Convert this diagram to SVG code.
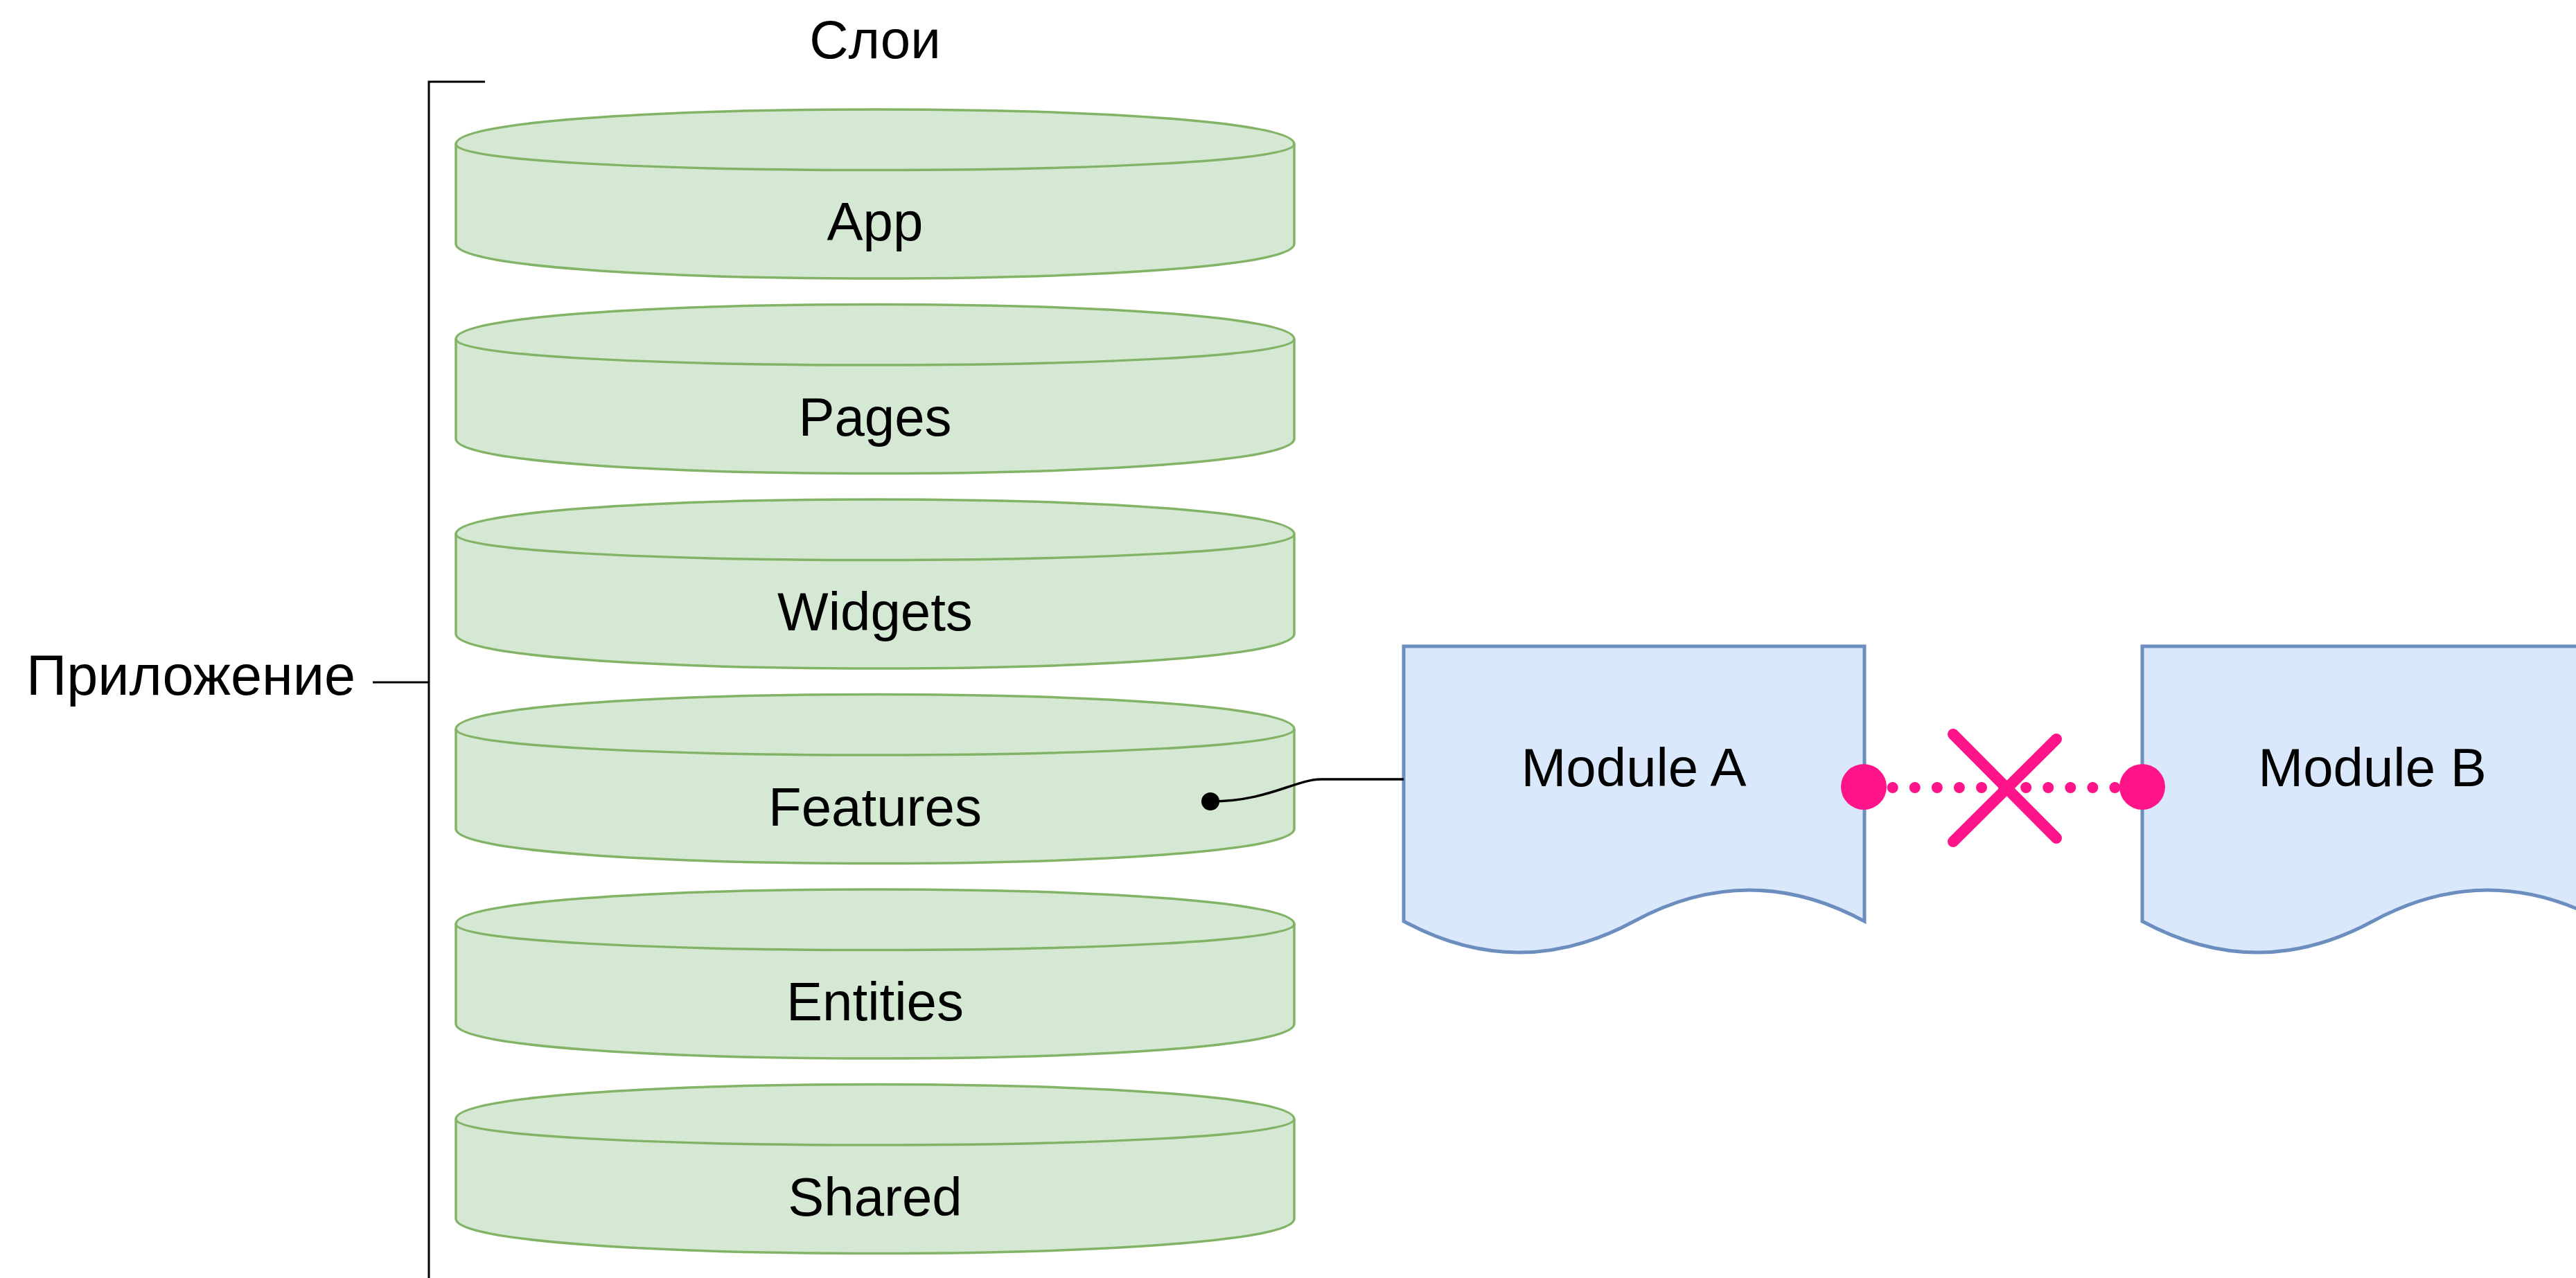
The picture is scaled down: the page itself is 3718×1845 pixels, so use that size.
<svg xmlns="http://www.w3.org/2000/svg" xmlns:xlink="http://www.w3.org/1999/xlink" width="3718" height="1845" viewBox="0 0 3718 1845">
  <style>
    .lbl { font-family: "Liberation Sans", Arial, Helvetica, sans-serif; font-size: 78px; fill: #000000; }
    .cyl { fill: #d5e8d4; stroke: #82b366; stroke-width: 3.5; }
    .cyl-rim { fill: none; stroke: #82b366; stroke-width: 3.5; }
    .doc { fill: #dae8fc; stroke: #6c8ebf; stroke-width: 5; stroke-linejoin: miter; }
    .bracket { fill: none; stroke: #000000; stroke-width: 3; }
    .link { fill: none; stroke: #000000; stroke-width: 3.5; }
    .forbid { fill: none; stroke: #ff148a; stroke-linecap: round; }
  </style>
  <defs>
    <!-- layer cylinder, 1210 x 244, origin at top-left (bezier rims) -->
    <g id="cylinder">
      <path class="cyl" d="M0,50 C0,-16.7 1210,-16.7 1210,50 V194 C1210,260.7 0,260.7 0,194 Z"/>
      <path class="cyl-rim" d="M0,50 C0,100 1210,100 1210,50"/>
    </g>
    <!-- document shape with wavy bottom, 665 x 447 -->
    <path id="document" class="doc" d="M0,0 H665 V397 Q498.75,307 332.5,397 Q166.25,487 0,397 Z"/>
  </defs>

  <rect x="0" y="0" width="3718" height="1845" fill="#ffffff"/>

  <!-- header -->
  <g id="title-layers">
    <text class="lbl" x="1263" y="84" text-anchor="middle">Слои</text>
  </g>

  <!-- bracket grouping the layers -->
  <g id="app-bracket">
    <path class="bracket" d="M700,118 H619 V1850"/>
    <line class="bracket" x1="538" y1="985" x2="619" y2="985"/>
    <text class="lbl" x="513" y="1003" text-anchor="end" style="font-size:81px">Приложение</text>
  </g>

  <!-- layers -->
  <g id="layer-app">
    <use xlink:href="#cylinder" transform="translate(658,158)"/>
    <text class="lbl" x="1263" y="347" text-anchor="middle">App</text>
  </g>
  <g id="layer-pages">
    <use xlink:href="#cylinder" transform="translate(658,439.5)"/>
    <text class="lbl" x="1263" y="628.5" text-anchor="middle">Pages</text>
  </g>
  <g id="layer-widgets">
    <use xlink:href="#cylinder" transform="translate(658,721)"/>
    <text class="lbl" x="1263" y="910" text-anchor="middle">Widgets</text>
  </g>
  <g id="layer-features">
    <use xlink:href="#cylinder" transform="translate(658,1002.5)"/>
    <text class="lbl" x="1263" y="1191.5" text-anchor="middle">Features</text>
  </g>
  <g id="layer-entities">
    <use xlink:href="#cylinder" transform="translate(658,1284)"/>
    <text class="lbl" x="1263" y="1473" text-anchor="middle">Entities</text>
  </g>
  <g id="layer-shared">
    <use xlink:href="#cylinder" transform="translate(658,1565.5)"/>
    <text class="lbl" x="1263" y="1754.5" text-anchor="middle">Shared</text>
  </g>

  <!-- modules -->
  <g id="module-a">
    <use xlink:href="#document" transform="translate(2026,933)"/>
    <text class="lbl" x="2358" y="1135" text-anchor="middle">Module A</text>
  </g>
  <g id="module-b">
    <use xlink:href="#document" transform="translate(3092,933)"/>
    <text class="lbl" x="3424" y="1135" text-anchor="middle">Module B</text>
  </g>

  <!-- connectors -->
  <g id="connectors">
    <!-- Module A belongs to Features -->
    <path class="link" d="M2026,1125 H1907 C1870,1125 1830,1157 1747,1157"/>
    <circle cx="1747" cy="1157" r="13" fill="#000000"/>

    <!-- forbidden dependency between modules -->
    <line class="forbid" x1="2731.7" y1="1137" x2="3053" y2="1137" stroke-width="16" stroke-dasharray="0 32.08"/>
    <circle cx="2690" cy="1136" r="33" fill="#ff148a"/>
    <circle cx="3092" cy="1136" r="33" fill="#ff148a"/>
    <line class="forbid" x1="2819" y1="1060" x2="2968" y2="1210" stroke-width="16"/>
    <line class="forbid" x1="2968" y1="1067" x2="2819" y2="1215" stroke-width="16"/>
  </g>
</svg>
